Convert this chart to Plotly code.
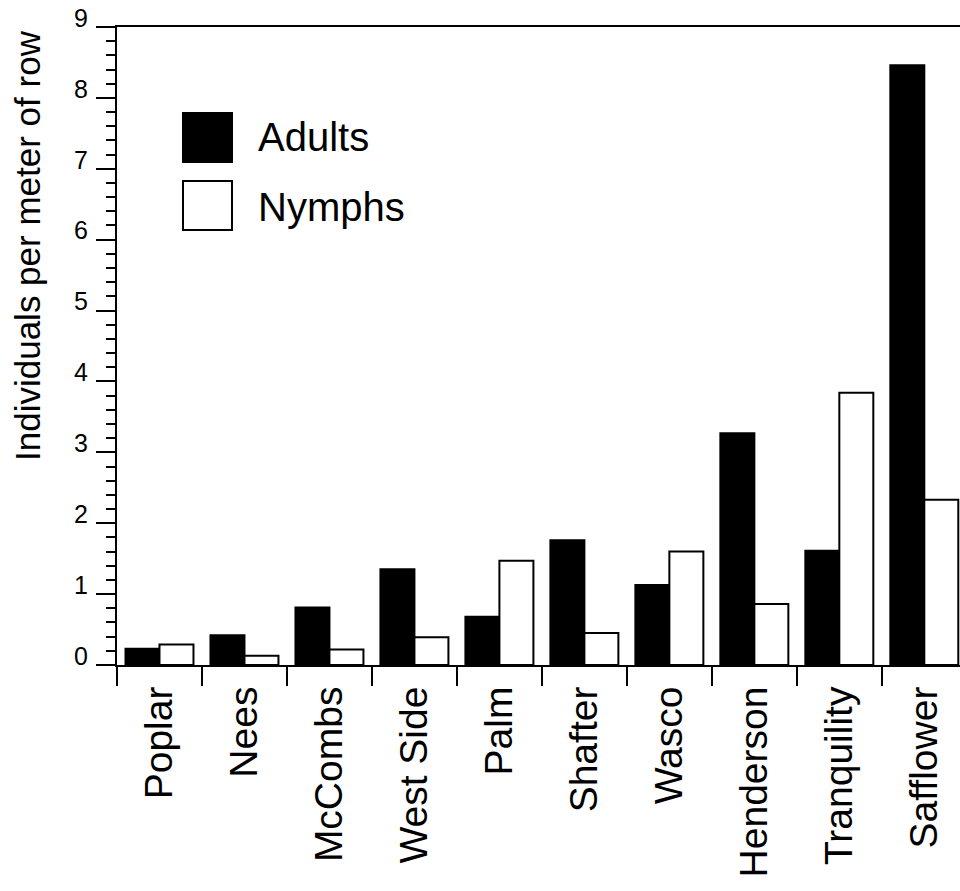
import plotly.graph_objects as go

sites = ["Poplar", "Nees", "McCombs", "West Side", "Palm", "Shafter",
         "Wasco", "Henderson", "Tranquility", "Safflower"]
adults = [0.23, 0.42, 0.81, 1.35, 0.68, 1.76, 1.13, 3.27, 1.61, 8.46]
nymphs = [0.29, 0.13, 0.22, 0.39, 1.47, 0.45, 1.60, 0.86, 3.84, 2.33]
y_ticks = list(range(0, 10))
series_names = ["Adults", "Nymphs"]

FONT = "Liberation Sans, Arial, Helvetica, sans-serif"

fig = go.Figure()
fig.add_trace(go.Bar(x=sites, y=adults, name=series_names[0],
                     marker=dict(color="black", line=dict(color="black", width=2))))
fig.add_trace(go.Bar(x=sites, y=nymphs, name=series_names[1],
                     marker=dict(color="white", line=dict(color="black", width=2))))

W, H = 960, 891
L, R, T, B = 117, 0, 27, 226
pw, ph = W - L - R, H - T - B

def px(x):
    return (x - L) / pw

def py(y):
    return (H - B - y) / ph

# legend (drawn manually to match large swatches)
shapes = [
    dict(type="rect", xref="paper", yref="paper", x0=px(183), x1=px(232), y0=py(162), y1=py(113),
         fillcolor="black", line=dict(color="black", width=2)),
    dict(type="rect", xref="paper", yref="paper", x0=px(183), x1=px(232), y0=py(230), y1=py(181),
         fillcolor="white", line=dict(color="black", width=2)),
]
annotations = [
    dict(text=series_names[0], xref="paper", yref="paper", x=px(256), y=py(137), xanchor="left",
         yanchor="middle", showarrow=False, font=dict(family=FONT, size=40, color="black")),
    dict(text=series_names[1], xref="paper", yref="paper", x=px(256), y=py(207), xanchor="left",
         yanchor="middle", showarrow=False, font=dict(family=FONT, size=40, color="black")),
    dict(text="Individuals per meter of row", xref="paper", yref="paper", x=px(28), y=py(246),
         xanchor="center", yanchor="middle", textangle=-90, showarrow=False,
         font=dict(family=FONT, size=35, color="black")),
]

fig.update_layout(
    width=W, height=H,
    margin=dict(l=L, r=R, t=T, b=B, pad=0, autoexpand=False),
    plot_bgcolor="white", paper_bgcolor="white",
    barmode="group", bargap=0.2, bargroupgap=0,
    showlegend=False,
    shapes=shapes, annotations=annotations,
    font=dict(family=FONT, color="black"),
)
fig.update_xaxes(
    range=[-0.5, 9.42], showgrid=False, zeroline=False, automargin=False,
    showline=True, linecolor="black", linewidth=2, mirror=True,
    ticks="outside", tickson="boundaries", ticklen=19, tickwidth=2, tickcolor="black",
    tickangle=-90, tickfont=dict(family=FONT, size=39, color="black"),
    ticklabelstandoff=4,
)
fig.update_yaxes(
    range=[0, 9], tickvals=y_ticks, showgrid=False, zeroline=False, automargin=False,
    showline=True, linecolor="black", linewidth=2,
    ticks="outside", ticklen=19, tickwidth=2, tickcolor="black",
    minor=dict(dtick=0.2, ticks="outside", ticklen=9, tickwidth=2, tickcolor="black", showgrid=False),
    tickfont=dict(family=FONT, size=25, color="black"),
    ticklabelshift=-9, ticklabelstandoff=3,
)

fig.write_html("out.html", config={"displayModeBar": False},
               post_script="document.body.style.margin='0';document.body.style.overflow='hidden';")
